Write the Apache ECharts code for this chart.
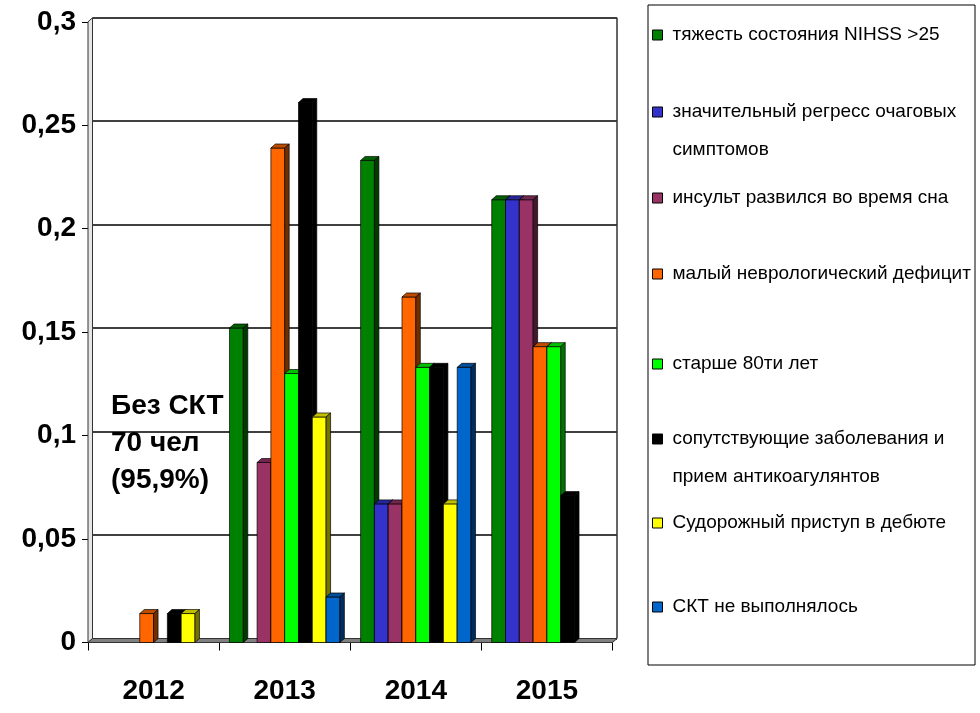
<!DOCTYPE html>
<html>
<head>
<meta charset="utf-8">
<title>Chart</title>
<script src="https://cdn.jsdelivr.net/npm/echarts@6/dist/echarts.min.js"></script>
<style>
  html, body { margin: 0; padding: 0; background: #fff; }
  #main { width: 980px; height: 713px; }
</style>
</head>
<body>
<div id="main"></div>
<script>
// годы
const categories = ["2012", "2013", "2014", "2015"];

// доли по каждому фактору (0 = столбца нет)
const tyazhest = [0, 0.152, 0.233, 0.214];
const regress = [0, 0, 0.067, 0.214];
const insultSon = [0, 0.087, 0.067, 0.214];
const malyDeficit = [0.014, 0.239, 0.167, 0.143];
const starshe80 = [0, 0.13, 0.133, 0.143];
const soputstv = [0.014, 0.261, 0.133, 0.071];
const sudorozh = [0.014, 0.109, 0.067, 0];
const sktNet = [0, 0.022, 0.133, 0];

const seriesNames = [
  "тяжесть состояния NIHSS >25",
  "значительный регресс очаговых симптомов",
  "инсульт развился во время сна",
  "малый неврологический дефицит",
  "старше 80ти лет",
  "сопутствующие заболевания и прием антикоагулянтов",
  "Судорожный приступ в дебюте",
  "СКТ не выполнялось"
];
const seriesData = [tyazhest, regress, insultSon, malyDeficit, starshe80, soputstv, sudorozh, sktNet];
const colors = ["#008000", "#3333CC", "#993366", "#FF6600", "#00FF00", "#000000", "#FFFF00", "#0066CC"];

// y axis ticks
const yMin = 0;
const yMax = 0.3;
const yStep = 0.05;

// плоскость передней стенки и сдвиг "глубины"
const FL = 88, FR = 612.5, FT = 21.8, FB = 642.5;
const DX = 4.5, DY = 4;
const GAP = 0.158;

const fontName = "Liberation Sans, Arial, sans-serif";

function shade(hex, k) {
  let r = parseInt(hex.substr(1, 2), 16);
  let g = parseInt(hex.substr(3, 2), 16);
  let b = parseInt(hex.substr(5, 2), 16);
  return "rgb(" + Math.round(r * k) + "," + Math.round(g * k) + "," + Math.round(b * k) + ")";
}

function renderBar(params, api) {
  let v = api.value(1);
  if (!v) return;
  let idx = params.seriesIndex;
  let base = api.coord([api.value(0), 0]);
  let top = api.coord([api.value(0), v]);
  let catW = api.size([1, 0])[0];
  let barW = catW * (1 - GAP) / seriesData.length;
  let x0 = base[0] - barW * seriesData.length / 2 + idx * barW;
  let c = colors[idx];
  let edge = "rgba(0,0,0,0.85)";
  return {
    type: "group",
    children: [
      {
        type: "rect",
        shape: { x: x0, y: top[1], width: barW, height: base[1] - top[1] },
        style: { fill: c, stroke: edge, lineWidth: 0.8 }
      },
      {
        type: "polygon",
        shape: { points: [[x0, top[1]], [x0 + DX, top[1] - DY], [x0 + barW + DX, top[1] - DY], [x0 + barW, top[1]]] },
        style: { fill: shade(c, 0.75), stroke: edge, lineWidth: 0.8 }
      },
      {
        type: "polygon",
        shape: { points: [[x0 + barW, top[1]], [x0 + barW + DX, top[1] - DY], [x0 + barW + DX, base[1] - DY], [x0 + barW, base[1]]] },
        style: { fill: shade(c, 0.45), stroke: edge, lineWidth: 0.8 }
      }
    ]
  };
}

let series = seriesNames.map((name, i) => ({
  name: name,
  type: "custom",
  xAxisIndex: 0,
  yAxisIndex: 0,
  renderItem: renderBar,
  itemStyle: { color: colors[i] },
  encode: { x: 0, y: 1 },
  data: seriesData[i].map((v, j) => [j, v])
}));

// позиции строк легенды (центр первой строки)
const legendY = [33, 110, 196, 272, 362, 437, 521, 605];
// пустая первая строка - чтобы значок стоял у первой строки текста
const legendWrap = {
  "значительный регресс очаговых симптомов": "\nзначительный регресс очаговых\nсимптомов",
  "сопутствующие заболевания и прием антикоагулянтов": "\nсопутствующие заболевания и\nприем антикоагулянтов"
};
let legends = seriesNames.map((name, i) => {
  let wrapped = legendWrap[name];
  return {
    data: [name],
    left: 652,
    top: legendY[i] - (wrapped ? 55 : 10),
    padding: 0,
    itemWidth: 10,
    itemHeight: 10,
    icon: "rect",
    selectedMode: false,
    itemStyle: { borderColor: "#000", borderWidth: 1 },
    formatter: () => wrapped || name,
    textStyle: {
      fontFamily: fontName,
      fontSize: 19,
      color: "#000",
      lineHeight: wrapped ? 38 : 24,
      padding: [0, 0, 0, 5]
    }
  };
});

let chart = echarts.init(document.getElementById("main"));
chart.setOption({
  animation: false,
  backgroundColor: "#fff",
  title: {
    text: "Без СКТ\n70 чел\n(95,9%)",
    left: 111,
    top: 388,
    padding: 0,
    textStyle: { fontFamily: fontName, fontSize: 28, fontWeight: "bold", lineHeight: 37, color: "#000" }
  },
  legend: legends,
  grid: [
    { left: FL, top: FT, width: FR - FL, height: FB - FT },
    { left: FL + DX, top: FT - DY, width: FR - FL, height: FB - FT }
  ],
  xAxis: [
    {
      type: "category",
      gridIndex: 0,
      data: categories,
      axisLine: { lineStyle: { color: "#000", width: 1 } },
      axisTick: { show: true, length: 8, lineStyle: { color: "#000" } },
      axisLabel: { margin: 35, fontFamily: fontName, fontSize: 28, fontWeight: "bold", color: "#000" }
    },
    { type: "category", gridIndex: 1, data: categories, show: false }
  ],
  yAxis: [
    {
      type: "value",
      gridIndex: 0,
      min: yMin,
      max: yMax,
      interval: yStep,
      axisLine: { show: true, lineStyle: { color: "#000", width: 1 } },
      axisTick: { show: true, length: 6, lineStyle: { color: "#000" } },
      splitLine: { show: false },
      axisLabel: {
        margin: 12,
        fontFamily: fontName,
        fontSize: 28,
        fontWeight: "bold",
        color: "#000",
        formatter: v => String(+v.toFixed(2)).replace(".", ",")
      }
    },
    {
      // задняя стенка - линии сетки
      type: "value",
      gridIndex: 1,
      min: yMin,
      max: yMax,
      interval: yStep,
      axisLine: { show: false },
      axisTick: { show: false },
      axisLabel: { show: false },
      splitLine: { show: true, lineStyle: { color: "#000", width: 1.5 } }
    }
  ],
  graphic: [
    {
      type: "polygon",
      z: 1,
      shape: { points: [[FL, FT], [FL + DX, FT - DY], [FL + DX, FB - DY], [FL, FB]] },
      style: { fill: "#e6e6e6", stroke: "#333", lineWidth: 1 }
    },
    {
      type: "polygon",
      z: 1,
      shape: { points: [[FL, FB], [FL + DX, FB - DY], [FR + DX, FB - DY], [FR, FB]] },
      style: { fill: "#808080", stroke: "#333", lineWidth: 1 }
    },
    {
      type: "line",
      z: 1,
      shape: { x1: FR + DX, y1: FT - DY, x2: FR + DX, y2: FB - DY },
      style: { stroke: "#333", lineWidth: 1.5 }
    },
    {
      type: "rect",
      z: 1,
      shape: { x: 648, y: 5, width: 327, height: 660 },
      style: { fill: null, stroke: "#000", lineWidth: 1 }
    }
  ],
  series: series
});
</script>
</body>
</html>
